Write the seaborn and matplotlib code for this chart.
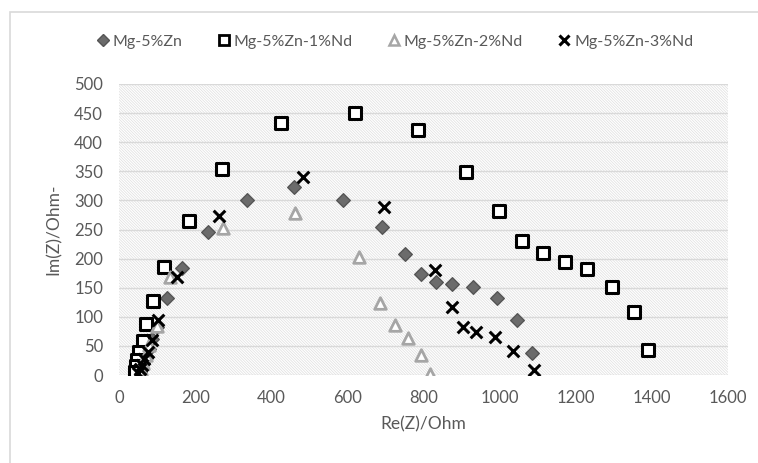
import matplotlib
matplotlib.use("Agg")
import matplotlib.pyplot as plt
import seaborn as sns
from matplotlib.patches import Rectangle
from matplotlib.lines import Line2D

# ---- data ----
zn_x = [1084, 1045, 992, 929, 876, 832, 794, 751, 691, 588, 460, 335, 234, 165, 127, 99, 88, 78, 70, 63, 58, 55]
zn_y = [38, 95, 133, 152, 157, 160, 173, 208, 255, 300, 323, 300, 245, 183, 132, 83, 62, 44, 30, 20, 12, 5]

nd1_x = [1389, 1352, 1294, 1229, 1172, 1113, 1060, 998, 912, 786, 619, 426, 271, 183, 119, 90, 70, 62, 52, 47, 44, 42]
nd1_y = [43, 108, 152, 182, 194, 210, 230, 282, 348, 421, 451, 433, 354, 264, 185, 127, 87, 58, 40, 26, 15, 6]

nd2_x = [817, 793, 760, 725, 686, 631, 462, 272, 134, 100, 80, 70, 63, 58, 55]
nd2_y = [2, 34, 63, 86, 123, 203, 278, 252, 169, 84, 52, 34, 20, 10, 3]

nd3_x = [1090, 1034, 988, 939, 903, 874, 830, 695, 484, 262, 152, 103, 86, 75, 66, 60, 55, 50]
nd3_y = [9, 41, 65, 74, 83, 117, 180, 288, 341, 273, 168, 95, 60, 40, 28, 18, 10, 4]

labels = ["Mg-5%Zn", "Mg-5%Zn-1%Nd", "Mg-5%Zn-2%Nd", "Mg-5%Zn-3%Nd"]
x_ticks = [0, 200, 400, 600, 800, 1000, 1200, 1400, 1600]
y_ticks = [0, 50, 100, 150, 200, 250, 300, 350, 400, 450, 500]

sns.set_theme(style="white")
plt.rcParams["font.family"] = ["Lato", "DejaVu Sans"]
plt.rcParams["hatch.linewidth"] = 0.5
plt.rcParams["hatch.color"] = "#dedede"

fig = plt.figure(figsize=(7.58, 4.63), dpi=100)
ax = fig.add_axes([119 / 758, 1 - 375 / 463, (728 - 119) / 758, (375 - 84) / 463])

# outer light border of the chart object
fig.patches.append(Rectangle((10 / 758, -0.1), 1.2, 1 - 12 / 463 + 0.1, transform=fig.transFigure,
                             fill=False, edgecolor="#d9d9d9", linewidth=1.2, zorder=0))

# hatched plot area
ax.add_patch(Rectangle((0, 0), 1, 1, transform=ax.transAxes, facecolor="white",
                       edgecolor="#dedede", hatch="\\" * 12, linewidth=0, zorder=0))

for s in ax.spines.values():
    s.set_visible(False)
ax.set_xlim(0, 1600)
ax.set_ylim(0, 500)
ax.set_xticks(x_ticks)
ax.set_yticks(y_ticks)
ax.yaxis.grid(True, color="#d9d9d9", linewidth=1.0, zorder=1)
ax.xaxis.grid(False)
ax.set_axisbelow(True)
ax.tick_params(axis="x", length=0, labelsize=12, colors="#595959", pad=11)
ax.tick_params(axis="y", length=0, labelsize=12, colors="#595959", pad=11.5)

sns.scatterplot(x=zn_x, y=zn_y, marker="D", s=48, color="#6b6b6b", edgecolor="#555555",
                linewidth=1.0, ax=ax, zorder=3)
sns.scatterplot(x=nd1_x, y=nd1_y, marker="s", s=75, color="white", edgecolor="black",
                linewidth=2.2, ax=ax, zorder=3)
sns.scatterplot(x=nd2_x, y=nd2_y, marker="^", s=70, color="white", edgecolor="#a6a6a6",
                linewidth=2.0, ax=ax, zorder=3)
sns.scatterplot(x=nd3_x, y=nd3_y, marker="x", s=70, color="black",
                linewidth=2.2, ax=ax, zorder=4)

ax.set_xlabel("Re(Z)/Ohm", fontsize=12.5, color="#595959", labelpad=7)
ax.set_ylabel("Im(Z)/Ohm-", fontsize=12.5, color="#595959", labelpad=9)

handles = [
    Line2D([], [], linestyle="none", marker="D", markersize=6, markerfacecolor="#6b6b6b",
           markeredgecolor="#555555", markeredgewidth=1.0),
    Line2D([], [], linestyle="none", marker="s", markersize=7.5, markerfacecolor="white",
           markeredgecolor="black", markeredgewidth=2.0),
    Line2D([], [], linestyle="none", marker="^", markersize=7.5, markerfacecolor="white",
           markeredgecolor="#a6a6a6", markeredgewidth=1.8),
    Line2D([], [], linestyle="none", marker="x", markersize=7.5, color="black",
           markeredgewidth=2.2),
]
fig.legend(handles, labels, loc="center", bbox_to_anchor=(394 / 758, 1 - 42 / 463), ncol=4,
           frameon=False, fontsize=11.5, handletextpad=0.1, columnspacing=2.1,
           handlelength=1.0, labelcolor="#595959")

fig.savefig("out.png", dpi=100)
